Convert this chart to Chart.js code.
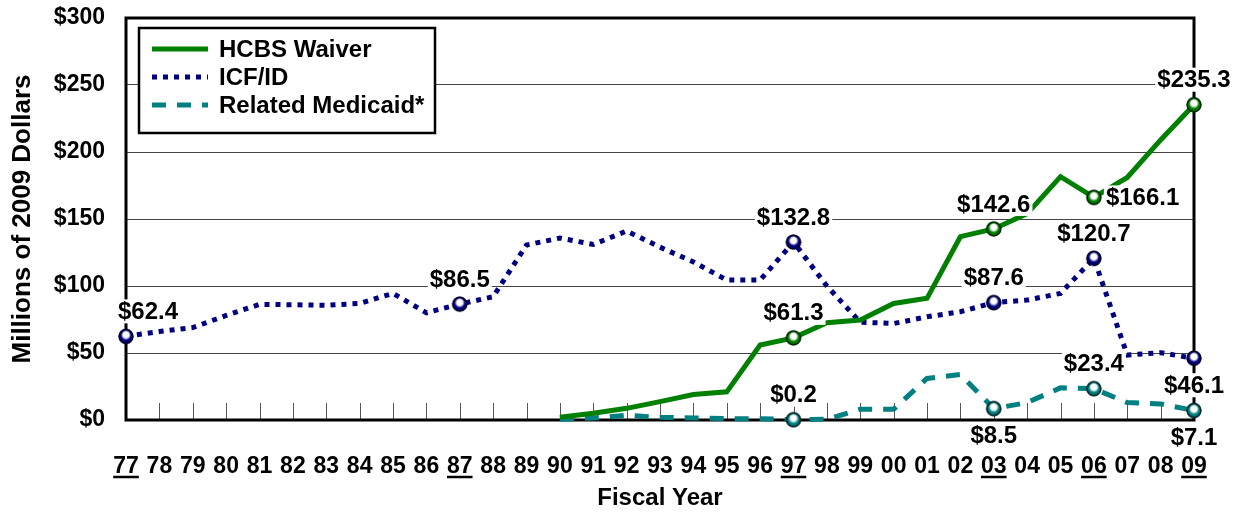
<!DOCTYPE html>
<html lang="en">
<head>
<meta charset="UTF-8">
<title>HCBS Waiver, ICF/ID and Related Medicaid spending, FY77-09</title>
<script src="https://cdn.jsdelivr.net/npm/chart.js"></script>
<style>
  html, body { margin: 0; padding: 0; background: #fff; }
</style>
</head>
<body>
<canvas id="myChart" width="1241" height="513"></canvas>

<script>
// fiscal years 1977 - 2009
const years = ['77','78','79','80','81','82','83','84','85','86','87','88','89','90','91','92','93',
               '94','95','96','97','98','99','00','01','02','03','04','05','06','07','08','09'];
const underlinedYears = ['77','87','97','03','06','09'];

// millions of 2009 dollars
const hcbsWaiver = [null,null,null,null,null,null,null,null,null,null,null,null,null,
                    2,5,8.7,13.7,19,21,56,61.3,72.6,74.6,87,90.8,136.8,142.6,154,181.6,166.1,181,209,235.3];
const icfId = [62.4,66,69,78,86.3,86,85.6,87,94.5,80,86.5,92,130.6,135.8,131,141,129,118,104.5,104.5,
               132.8,100,73,72,77,80.8,87.6,89.5,94.5,120.7,48.5,50.2,46.1];
const relatedMedicaid = [null,null,null,null,null,null,null,null,null,null,null,null,null,
                         0.5,1.5,3.5,2,1.5,1,1,0.2,0.5,8,8,31,34,8.5,13,24,23.4,13,12,7.1];

const yTicks = [0, 50, 100, 150, 200, 250, 300];

// which points get a marker + value label, and where the label goes
const callouts = [
  { ds: 1, year: '77', pos: 'aboveRight' },
  { ds: 1, year: '87', pos: 'above' },
  { ds: 1, year: '97', pos: 'above' },
  { ds: 1, year: '03', pos: 'above' },
  { ds: 1, year: '06', pos: 'above' },
  { ds: 1, year: '09', pos: 'below' },
  { ds: 0, year: '97', pos: 'above' },
  { ds: 0, year: '03', pos: 'above' },
  { ds: 0, year: '06', pos: 'right' },
  { ds: 0, year: '09', pos: 'above' },
  { ds: 2, year: '97', pos: 'above' },
  { ds: 2, year: '03', pos: 'below' },
  { ds: 2, year: '06', pos: 'above' },
  { ds: 2, year: '09', pos: 'below' }
];

const FONT = "'Liberation Sans', Arial, sans-serif";

// little shaded ball used as the marker
function ball(color, edge) {
  const c = document.createElement('canvas');
  c.width = 18; c.height = 18;
  const g = c.getContext('2d');
  const grad = g.createRadialGradient(9, 7, 0, 9, 8, 7);
  grad.addColorStop(0, '#ffffff');
  grad.addColorStop(0.42, '#ffffff');
  grad.addColorStop(0.72, color);
  grad.addColorStop(1, color);
  g.beginPath();
  g.arc(9, 9, 6.8, 0, Math.PI * 2);
  g.fillStyle = grad;
  g.fill();
  g.lineWidth = 1.5;
  g.strokeStyle = edge;
  g.stroke();
  return c;
}

function markerRadius(dsIndex) {
  return ctx => callouts.some(c => c.ds === dsIndex && years.indexOf(c.year) === ctx.dataIndex) ? 7 : 0;
}

const frameAndTicks = {
  id: 'frameAndTicks',
  beforeDatasetsDraw(chart) {
    const { ctx, chartArea: a, scales: { x } } = chart;
    ctx.save();
    ctx.strokeStyle = '#555';
    ctx.lineWidth = 1;
    years.forEach((y, i) => {
      const px = Math.round(x.getPixelForTick(i)) + 0.5;
      ctx.beginPath();
      ctx.moveTo(px, a.bottom - 17);
      ctx.lineTo(px, a.bottom);
      ctx.stroke();
    });
    ctx.strokeStyle = '#000';
    ctx.lineWidth = 3;
    ctx.strokeRect(a.left, a.top, a.right - a.left, a.bottom - a.top);
    ctx.restore();
  }
};

const valueLabels = {
  id: 'valueLabels',
  afterDatasetsDraw(chart) {
    const ctx = chart.ctx;
    ctx.save();
    ctx.font = 'bold 24px ' + FONT;
    ctx.textBaseline = 'middle';
    ctx.textAlign = 'center';
    callouts.forEach(c => {
      const idx = years.indexOf(c.year);
      const pt = chart.getDatasetMeta(c.ds).data[idx];
      const v = chart.data.datasets[c.ds].data[idx];
      const txt = '$' + v.toFixed(1);
      const w = ctx.measureText(txt).width;
      let tx = pt.x, ty = pt.y;
      if (c.pos === 'above') ty -= 25;
      if (c.pos === 'below') ty += 27;
      if (c.pos === 'aboveRight') { ty -= 25; tx += 22; }
      if (c.pos === 'right') tx += w / 2 + 12;
      ctx.fillStyle = '#fff';
      ctx.fillRect(tx - w / 2 - 2, ty - 12, w + 4, 24);
      ctx.fillStyle = '#000';
      ctx.fillText(txt, tx, ty + 1);
    });
    // redraw markers on top of the label boxes
    callouts.forEach(c => {
      const pt = chart.getDatasetMeta(c.ds).data[years.indexOf(c.year)];
      const img = chart.data.datasets[c.ds].pointStyle;
      ctx.drawImage(img, pt.x - img.width / 2, pt.y - img.height / 2);
    });
    ctx.restore();
  }
};

const boxLegend = {
  id: 'boxLegend',
  afterDraw(chart) {
    const ctx = chart.ctx;
    const left = 139, top = 28, w = 296, h = 105;
    ctx.save();
    ctx.fillStyle = '#fff';
    ctx.fillRect(left, top, w, h);
    ctx.lineWidth = 2.5;
    ctx.strokeStyle = '#000';
    ctx.strokeRect(left, top, w, h);
    ctx.font = 'bold 24px ' + FONT;
    ctx.textBaseline = 'middle';
    chart.data.datasets.forEach((ds, i) => {
      const y = top + 21 + i * 28;
      ctx.beginPath();
      ctx.setLineDash(ds.borderDash || []);
      ctx.lineWidth = ds.borderWidth;
      ctx.strokeStyle = ds.borderColor;
      ctx.moveTo(152, y);
      ctx.lineTo(208, y);
      ctx.stroke();
      ctx.setLineDash([]);
      ctx.fillStyle = '#000';
      ctx.fillText(ds.label, 219, y + 1);
    });
    ctx.restore();
  }
};

const underlineTicks = {
  id: 'underlineTicks',
  afterDraw(chart) {
    const ctx = chart.ctx, x = chart.scales.x;
    ctx.save();
    ctx.font = 'bold 23px ' + FONT;
    ctx.strokeStyle = '#000';
    ctx.lineWidth = 2.5;
    underlinedYears.forEach(y => {
      const px = x.getPixelForTick(years.indexOf(y));
      const w = ctx.measureText(y).width;
      ctx.beginPath();
      ctx.moveTo(px - w / 2, 477);
      ctx.lineTo(px + w / 2, 477);
      ctx.stroke();
    });
    ctx.restore();
  }
};

const ctx = document.getElementById('myChart').getContext('2d');
const myChart = new Chart(ctx, {
  type: 'line',
  data: {
    labels: years,
    datasets: [{
      label: 'HCBS Waiver',
      data: hcbsWaiver,
      borderColor: '#008000',
      borderWidth: 5,
      pointStyle: ball('#008000', '#002a00'),
      pointRadius: markerRadius(0),
      tension: 0,
      clip: false
    }, {
      label: 'ICF/ID',
      data: icfId,
      borderColor: '#000080',
      borderWidth: 5,
      borderDash: [5, 6],
      pointStyle: ball('#000080', '#00002a'),
      pointRadius: markerRadius(1),
      tension: 0,
      clip: false
    }, {
      label: 'Related Medicaid*',
      data: relatedMedicaid,
      borderColor: '#008080',
      borderWidth: 5,
      borderDash: [14, 11],
      pointStyle: ball('#008080', '#002a2a'),
      pointRadius: markerRadius(2),
      tension: 0,
      clip: false
    }]
  },
  options: {
    responsive: false,
    animation: false,
    layout: { padding: { top: 18, right: 47, left: 0, bottom: 0 } },
    plugins: {
      legend: { display: false },
      tooltip: { enabled: false }
    },
    scales: {
      x: {
        offset: false,
        grid: { display: false, drawTicks: false },
        border: { display: false },
        ticks: {
          color: '#000',
          font: { family: FONT, size: 23, weight: 'bold' },
          padding: 33,
          maxRotation: 0,
          autoSkip: false
        },
        title: {
          display: true,
          text: 'Fiscal Year',
          color: '#000',
          font: { family: FONT, size: 24, weight: 'bold' },
          padding: { top: 0, bottom: 0 }
        },
        afterFit: s => { s.height = 93; s.paddingLeft = 0; s.paddingRight = 0; }
      },
      y: {
        min: 0,
        max: 300,
        afterBuildTicks: s => { s.ticks = yTicks.map(v => ({ value: v })); },
        grid: { color: '#444', lineWidth: 1, drawTicks: false },
        border: { display: false },
        ticks: {
          color: '#000',
          font: { family: FONT, size: 23, weight: 'bold' },
          padding: 21,
          callback: v => '$' + v
        },
        title: {
          display: true,
          text: 'Millions of 2009 Dollars',
          color: '#000',
          font: { family: FONT, size: 26, weight: 'bold' },
          padding: { top: 7, bottom: 0 }
        },
        afterFit: s => { s.width = 126; s.paddingTop = 0; s.paddingBottom = 0; }
      }
    }
  },
  plugins: [frameAndTicks, valueLabels, boxLegend, underlineTicks]
});
</script>
</body>
</html>
